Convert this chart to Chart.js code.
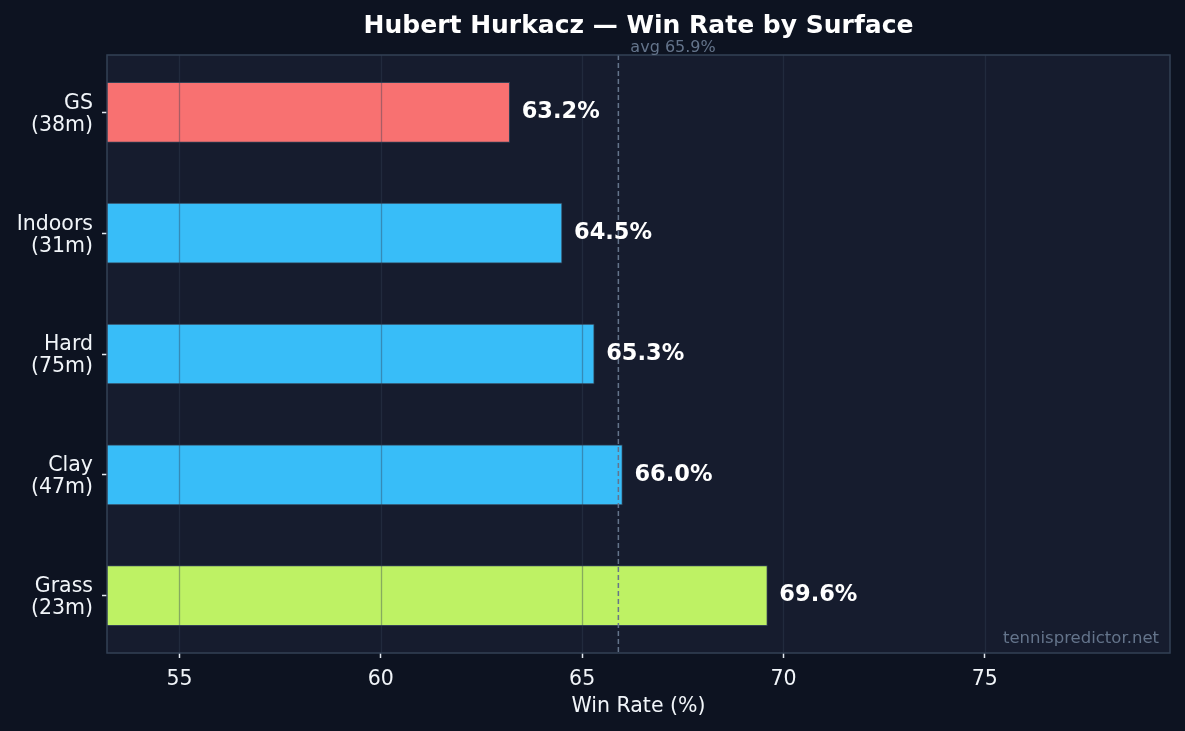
<!DOCTYPE html>
<html>
<head>
<meta charset="utf-8">
<script src="https://cdn.jsdelivr.net/npm/chart.js@4.4.0/dist/chart.umd.min.js"></script>
<style>
  html, body { margin: 0; padding: 0; background: #0d1321; }
  #wrap { width: 1185px; height: 731px; }
</style>
</head>
<body>
<div id="wrap"><canvas id="surfaceChart" width="1185" height="731"></canvas></div>
<script>
// datos del gráfico
const surfaces = ['GS', 'Indoors', 'Hard', 'Clay', 'Grass'];
const matches = [38, 31, 75, 47, 23];
const winRates = [63.2, 64.5, 65.3, 66.0, 69.6];
const barColors = ['#f87171', '#38bdf8', '#38bdf8', '#38bdf8', '#bef264'];
const avgRate = 65.9;
const xTicks = [55, 60, 65, 70, 75];

const FONT = "'DejaVu Sans', sans-serif";

// fondo del área, grilla encima de las barras, marco, etiquetas
const overlay = {
    id: 'overlay',
    beforeDatasetsDraw(chart) {
        const { ctx, chartArea: a } = chart;
        ctx.save();
        ctx.fillStyle = '#161c2e';
        ctx.fillRect(a.left, a.top, a.right - a.left, a.bottom - a.top);
        ctx.restore();
    },
    afterDatasetsDraw(chart) {
        const { ctx, chartArea: a, scales } = chart;
        const x = scales.x;
        ctx.save();

        // grilla vertical
        ctx.strokeStyle = 'rgba(51, 65, 85, 0.4)';
        ctx.lineWidth = 1.3;
        xTicks.forEach(v => {
            const px = Math.round(x.getPixelForValue(v)) + 0.5;
            ctx.beginPath();
            ctx.moveTo(px, a.top);
            ctx.lineTo(px, a.bottom);
            ctx.stroke();
        });

        // línea promedio
        const ax = x.getPixelForValue(avgRate);
        ctx.strokeStyle = '#64748b';
        ctx.lineWidth = 1.5;
        ctx.setLineDash([5, 3]);
        ctx.beginPath();
        ctx.moveTo(ax, a.top);
        ctx.lineTo(ax, a.bottom);
        ctx.stroke();
        ctx.setLineDash([]);

        // marco
        ctx.strokeStyle = '#334155';
        ctx.lineWidth = 1.5;
        ctx.strokeRect(a.left, a.top, a.right - a.left, a.bottom - a.top);

        // valores
        const meta = chart.getDatasetMeta(0);
        ctx.fillStyle = '#ffffff';
        ctx.font = 'bold 22.5px ' + FONT;
        ctx.textAlign = 'left';
        ctx.textBaseline = 'middle';
        meta.data.forEach((bar, i) => {
            ctx.fillText(winRates[i].toFixed(1) + '%', bar.x + 12, bar.y);
        });

        // texto promedio
        ctx.fillStyle = '#64748b';
        ctx.font = '16px ' + FONT;
        ctx.textBaseline = 'alphabetic';
        ctx.fillText('avg ' + avgRate.toFixed(1) + '%', ax + 12, a.top - 3);

        // marca de agua
        ctx.font = '16.5px ' + FONT;
        ctx.textAlign = 'right';
        ctx.fillText('tennispredictor.net', a.right - 11, a.bottom - 10);

        // título
        ctx.fillStyle = '#ffffff';
        ctx.font = 'bold 25px ' + FONT;
        ctx.textAlign = 'center';
        ctx.textBaseline = 'middle';
        ctx.fillText('Hubert Hurkacz — Win Rate by Surface', (a.left + a.right) / 2, 26);
        ctx.restore();
    }
};

const ctx = document.getElementById('surfaceChart');
new Chart(ctx, {
    type: 'bar',
    data: {
        datasets: [{
            data: winRates.map((v, i) => ({ x: v, y: i })),
            backgroundColor: barColors,
            borderColor: '#334155',
            borderWidth: 1,
            borderSkipped: false,
            barThickness: 60
        }]
    },
    options: {
        indexAxis: 'y',
        responsive: false,
        animation: false,
        layout: { padding: { left: 0, right: 15, top: 55, bottom: 0 } },
        plugins: {
            legend: { display: false },
            tooltip: { enabled: false }
        },
        scales: {
            x: {
                type: 'linear',
                min: 53.2,
                max: 79.6,
                afterBuildTicks: s => { s.ticks = xTicks.map(v => ({ value: v })); },
                afterFit: s => { s.height = 78; },
                border: { display: false },
                grid: { drawOnChartArea: false, tickLength: 5, tickColor: '#e2e8f0', tickWidth: 1.5 },
                ticks: { color: '#f1f5f9', font: { family: FONT, size: 20.5 }, padding: 9 },
                title: {
                    display: true,
                    text: 'Win Rate (%)',
                    color: '#f1f5f9',
                    font: { family: FONT, size: 20.5 },
                    padding: { top: 2, bottom: 12 }
                }
            },
            y: {
                type: 'linear',
                reverse: true,
                offset: false,
                min: -0.475,
                max: 4.475,
                afterBuildTicks: s => { s.ticks = surfaces.map((c, i) => ({ value: i })); },
                afterFit: s => { s.width = 107; },
                border: { display: false },
                grid: { offset: false, drawOnChartArea: false, tickLength: 5, tickColor: '#e2e8f0', tickWidth: 1.5 },
                ticks: {
                    color: '#f1f5f9',
                    font: { family: FONT, size: 20.5, lineHeight: '22px' },
                    padding: 9,
                    labelOffset: 2,
                    callback: v => [surfaces[v], '(' + matches[v] + 'm)']
                }
            }
        }
    },
    plugins: [overlay]
});
</script>
</body>
</html>
